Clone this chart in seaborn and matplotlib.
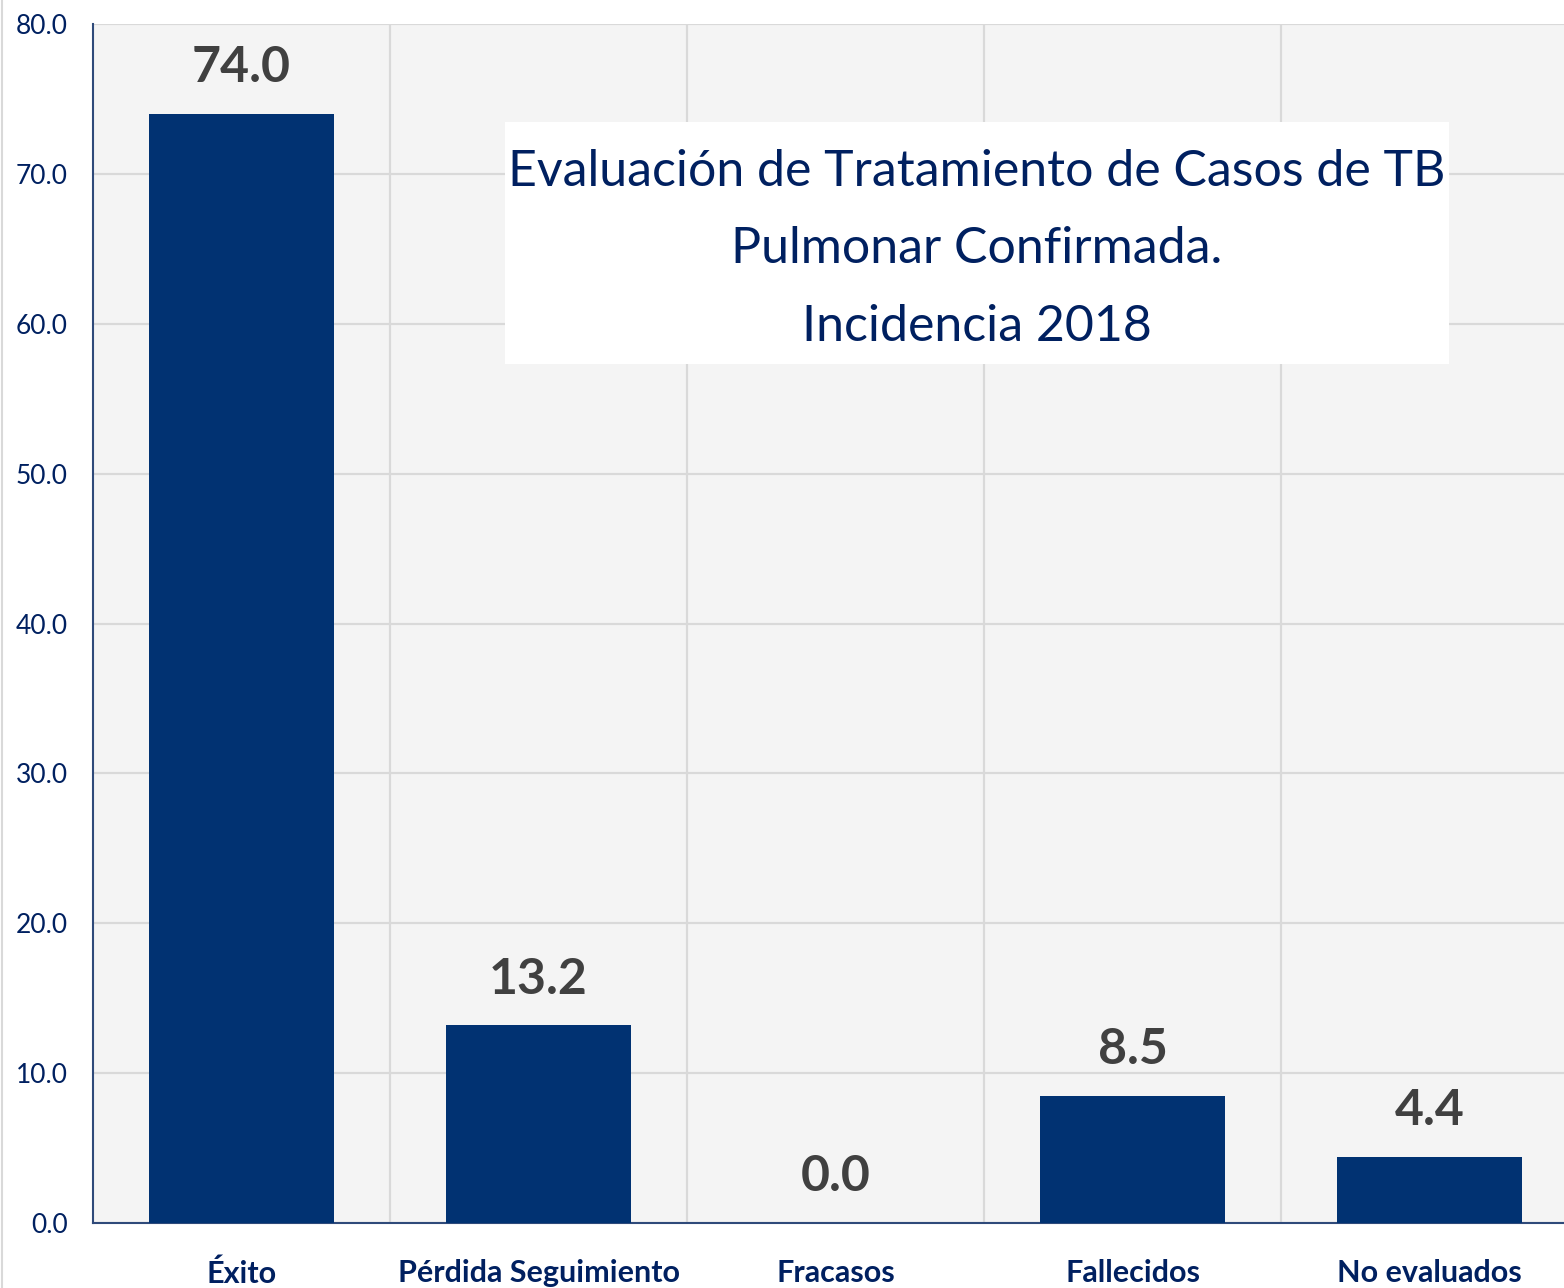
import matplotlib
matplotlib.use("Agg")
import matplotlib.pyplot as plt
import seaborn as sns
import pandas as pd
from matplotlib.patches import Rectangle

categories = ["Éxito", "Pérdida Seguimiento", "Fracasos", "Fallecidos", "No evaluados"]
values = [74.0, 13.2, 0.0, 8.5, 4.4]
title_text = "Evaluación de Tratamiento de Casos de TB\nPulmonar Confirmada.\nIncidencia 2018"

sns.set_theme(style="white")
plt.rcParams["font.family"] = ["Lato", "DejaVu Sans"]

navy = "#002060"
bar_c = "#013272"

df = pd.DataFrame({"cat": categories, "val": values})

fig = plt.figure(figsize=(15.64, 12.88), dpi=100)
ax = fig.add_axes([93/1564, 1-1223/1288, 1485/1564, 1199/1288])
ax.set_facecolor("#f4f4f4")

sns.barplot(data=df, x="cat", y="val", color=bar_c, width=0.62, saturation=1,
            linewidth=0, ax=ax, zorder=3)

ax.set_xlim(-0.5, 4.5)
ax.set_ylim(0, 80)
ax.set_yticks(range(0, 81, 10))
ax.set_yticklabels([f"{v:.1f}" for v in range(0, 81, 10)], color=navy, fontsize=19)
ax.set_xticks(range(len(categories)))
ax.set_xticklabels(categories, color=navy, fontsize=22, fontweight="bold")
ax.set_xticks([0.5, 1.5, 2.5, 3.5], minor=True)
ax.tick_params(axis="x", which="both", length=0, pad=26)
ax.tick_params(axis="y", length=0, pad=18)
ax.grid(axis="y", which="major", color="#d9d9d9", lw=1.6, zorder=0)
ax.grid(axis="x", which="minor", color="#d9d9d9", lw=1.6, zorder=0)
ax.set_xlabel("")
ax.set_ylabel("")
for s in ["top", "right"]:
    ax.spines[s].set_visible(False)
ax.spines["left"].set_color("#2f4a7a")
ax.spines["bottom"].set_color("#2f4a7a")
ax.spines["left"].set_linewidth(1.5)
ax.spines["bottom"].set_linewidth(1.5)

for i, v in enumerate(values):
    ax.annotate(f"{v:.1f}", (i, v), xytext=(0, 17), textcoords="offset points",
                ha="center", va="bottom", fontsize=36, fontweight="bold", color="#404040", zorder=5)

ax.add_patch(Rectangle((0.2774, 0.7164), 0.6357, 0.2018, transform=ax.transAxes,
                       facecolor="white", edgecolor="none", zorder=4))
ax.text(0.595, 0.812, title_text, transform=ax.transAxes, ha="center", va="center",
        fontsize=36, color=navy, linespacing=1.85, zorder=5)

fig.add_artist(plt.Line2D([2/1564, 2/1564], [0, 1], color="#d9d9d9", lw=1.5))
fig.savefig("out.png", dpi=100)
